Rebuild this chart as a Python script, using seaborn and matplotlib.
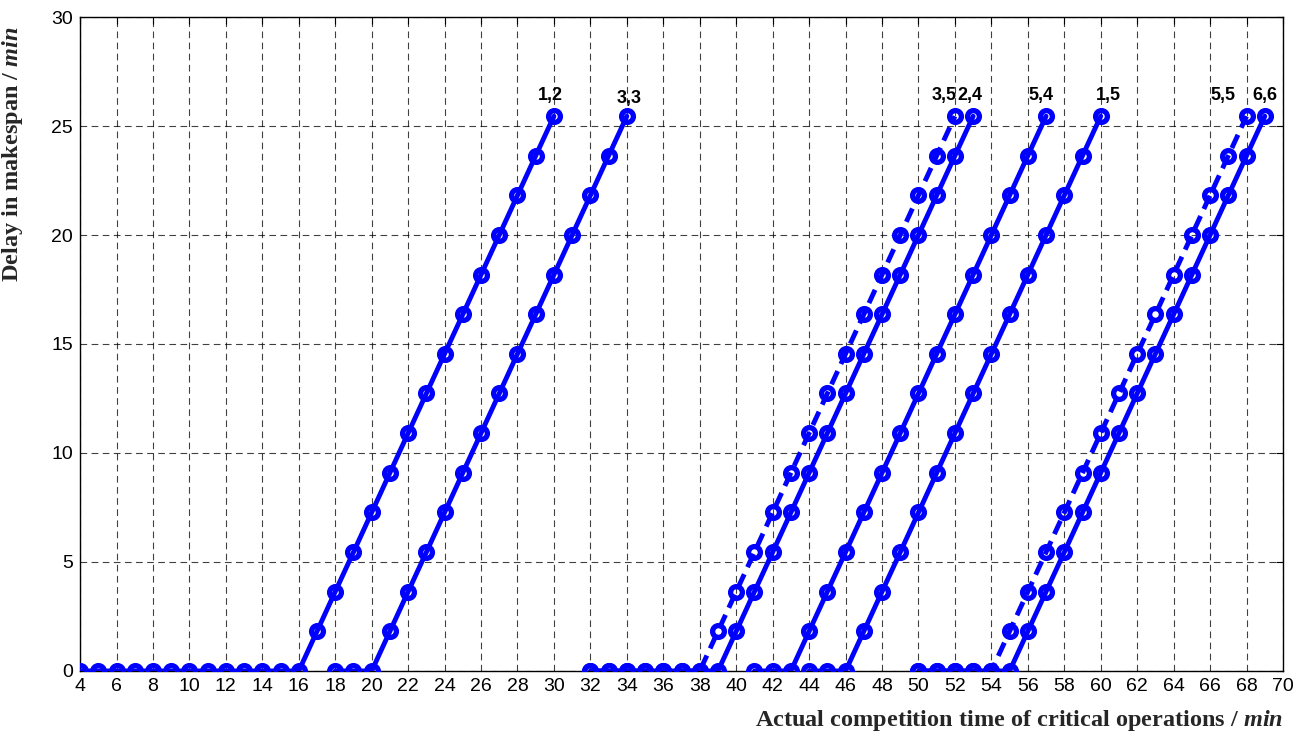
import matplotlib
matplotlib.use("Agg")
import matplotlib.pyplot as plt
import seaborn as sns
import pandas as pd

# Delay series (x = completion time, y = delay)
x_12 = [4, 5, 6, 7, 8, 9, 10, 11, 12, 13, 14, 15, 16, 17, 18, 19, 20, 21, 22, 23, 24, 25, 26, 27, 28, 29, 30]
y_12 = [0, 0, 0, 0, 0, 0, 0, 0, 0, 0, 0, 0, 0,
        1.82, 3.64, 5.45, 7.27, 9.09, 10.91, 12.73, 14.55, 16.36, 18.18, 20.0, 21.82, 23.64, 25.45]

x_33 = [18, 19, 20, 21, 22, 23, 24, 25, 26, 27, 28, 29, 30, 31, 32, 33, 34]
y_33 = [0, 0, 0,
        1.82, 3.64, 5.45, 7.27, 9.09, 10.91, 12.73, 14.55, 16.36, 18.18, 20.0, 21.82, 23.64, 25.45]

x_35 = [32, 33, 34, 35, 36, 37, 38, 39, 40, 41, 42, 43, 44, 45, 46, 47, 48, 49, 50, 51, 52]
y_35 = [0, 0, 0, 0, 0, 0, 0,
        1.82, 3.64, 5.45, 7.27, 9.09, 10.91, 12.73, 14.55, 16.36, 18.18, 20.0, 21.82, 23.64, 25.45]

x_24 = [32, 33, 34, 35, 36, 37, 38, 39, 40, 41, 42, 43, 44, 45, 46, 47, 48, 49, 50, 51, 52, 53]
y_24 = [0, 0, 0, 0, 0, 0, 0, 0,
        1.82, 3.64, 5.45, 7.27, 9.09, 10.91, 12.73, 14.55, 16.36, 18.18, 20.0, 21.82, 23.64, 25.45]

x_54 = [41, 42, 43, 44, 45, 46, 47, 48, 49, 50, 51, 52, 53, 54, 55, 56, 57]
y_54 = [0, 0, 0,
        1.82, 3.64, 5.45, 7.27, 9.09, 10.91, 12.73, 14.55, 16.36, 18.18, 20.0, 21.82, 23.64, 25.45]

x_15 = [44, 45, 46, 47, 48, 49, 50, 51, 52, 53, 54, 55, 56, 57, 58, 59, 60]
y_15 = [0, 0, 0,
        1.82, 3.64, 5.45, 7.27, 9.09, 10.91, 12.73, 14.55, 16.36, 18.18, 20.0, 21.82, 23.64, 25.45]

x_55 = [50, 51, 52, 53, 54, 55, 56, 57, 58, 59, 60, 61, 62, 63, 64, 65, 66, 67, 68]
y_55 = [0, 0, 0, 0, 0,
        1.82, 3.64, 5.45, 7.27, 9.09, 10.91, 12.73, 14.55, 16.36, 18.18, 20.0, 21.82, 23.64, 25.45]

x_66 = [50, 51, 52, 53, 54, 55, 56, 57, 58, 59, 60, 61, 62, 63, 64, 65, 66, 67, 68, 69]
y_66 = [0, 0, 0, 0, 0, 0,
        1.82, 3.64, 5.45, 7.27, 9.09, 10.91, 12.73, 14.55, 16.36, 18.18, 20.0, 21.82, 23.64, 25.45]

series = [("1,2", x_12, y_12, False), ("3,3", x_33, y_33, False),
          ("3,5", x_35, y_35, True), ("2,4", x_24, y_24, False),
          ("5,4", x_54, y_54, False), ("1,5", x_15, y_15, False),
          ("5,5", x_55, y_55, True), ("6,6", x_66, y_66, False)]

# end-point labels
label_text = ["1,2", "3,3", "3,5", "2,4", "5,4", "1,5", "5,5", "6,6"]
label_x = [29.8, 34.1, 51.4, 52.8, 56.7, 60.4, 66.7, 69.0]
label_y = [26.4, 26.25, 26.4, 26.4, 26.4, 26.4, 26.4, 26.4]

sns.set_style("white")
plt.rcParams['font.family'] = ['Liberation Sans', 'DejaVu Sans']
plt.rcParams['mathtext.fontset'] = 'custom'
plt.rcParams['mathtext.it'] = 'Liberation Serif:italic:bold'
plt.rcParams['mathtext.rm'] = 'Liberation Serif:bold'

fig = plt.figure(figsize=(13.06, 7.37), dpi=100)
ax = fig.add_axes([0.0613, 0.0896, 0.9211, 0.8873])

for name, xs, ys, dashed in series:
    df = pd.DataFrame({"x": xs, "y": ys})
    kw = dict(dashes=(3.0, 1.6)) if dashed else {}
    sns.lineplot(data=df, x="x", y="y", ax=ax, color="#0000ff", lw=3.5,
                 marker="o", markersize=8.5, markerfacecolor="none",
                 markeredgecolor="#0000ff", markeredgewidth=3.8, zorder=3, **kw)

for t, lx, ly in zip(label_text, label_x, label_y):
    ax.text(lx, ly, t, ha="center", va="center", fontsize=13,
            fontweight="bold", color="black", zorder=4)

ax.set_xlim(4, 70)
ax.set_ylim(0, 30)
ax.set_xticks(range(4, 71, 2))
ax.set_yticks(range(0, 31, 5))
ax.grid(True, color="black", linestyle=(0, (6, 4)), linewidth=0.8, alpha=0.75)
ax.tick_params(direction="in", length=5, width=0.8, top=True, right=True,
               labelsize=14, pad=5, colors="black")
for sp in ax.spines.values():
    sp.set_color("black")
    sp.set_linewidth(1.0)

ax.set_xlabel(r"Actual competition time of critical operations / $\mathit{min}$",
              fontsize=17.5, fontweight="bold", family="Liberation Serif", loc="right")
ax.xaxis.set_label_coords(1.0, -0.057)
ax.set_ylabel(r"Delay in makespan / $\mathit{min}$",
              fontsize=17.5, fontweight="bold", family="Liberation Serif")
ax.yaxis.set_label_coords(-0.046, 0.79)

fig.savefig("out.png", dpi=100)
